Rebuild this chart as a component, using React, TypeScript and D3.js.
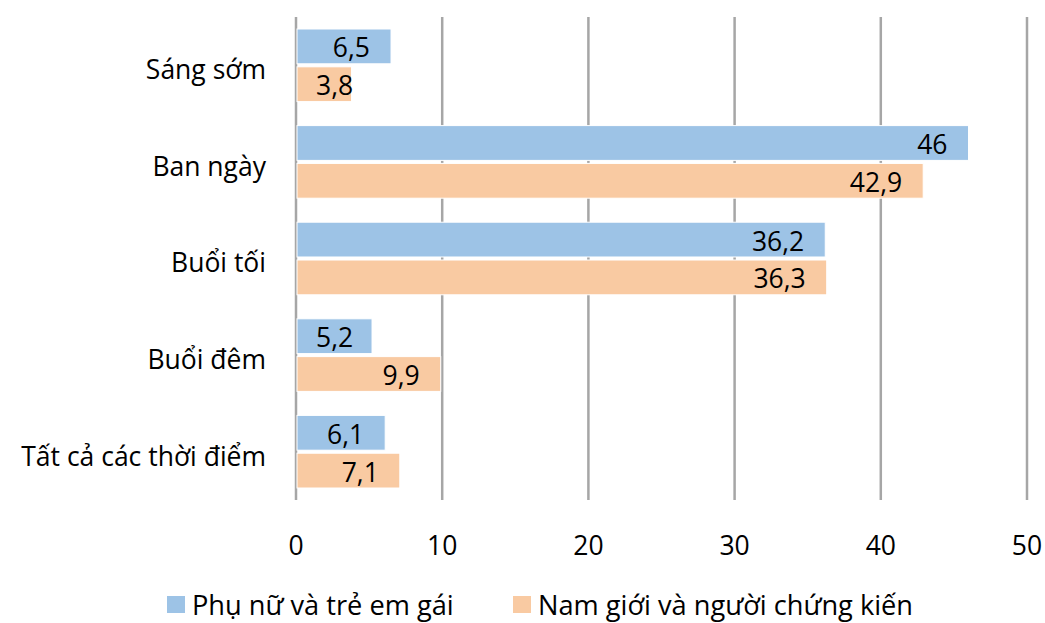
import React from 'react';
import * as d3 from 'd3';

const categories = ['Sáng sớm', 'Ban ngày', 'Buổi tối', 'Buổi đêm', 'Tất cả các thời điểm'];
const seriesNames = ['Phụ nữ và trẻ em gái', 'Nam giới và người chứng kiến'];
const womenValues = [6.5, 46, 36.2, 5.2, 6.1];
const menValues = [3.8, 42.9, 36.3, 9.9, 7.1];
const xTicks = [0, 10, 20, 30, 40, 50];

const colors = ['#9dc3e6', '#f9caa2'];
const font = "'Open Sans', 'DejaVu Sans', sans-serif";
const fs = 26.5;

const App = () => {
    const width = 1045;
    const height = 623;

    const x = d3.scaleLinear().domain([0, 50]).range([296, 1027]);
    const y = d3.scaleBand().domain(categories).range([17, 500]).padding(0);
    const inner = d3.scaleBand()
        .domain(seriesNames)
        .range([12, y.bandwidth() - 12])
        .paddingInner(0.08);

    const rows = categories.map((c, i) => ({
        category: c,
        values: [womenValues[i], menValues[i]],
    }));

    const fmt = (v: number) => String(v).replace('.', ',');
    // rough width of a number label
    const textW = (s: string) =>
        s.split('').reduce((acc, ch) => acc + (ch === ',' ? 0.26 : 0.572) * fs, 0);

    const legendX = [167, 513];

    return (
        <svg width={width} height={height} style={{ position: 'absolute', left: 0, top: 0, fontFamily: font }}>
            <rect width={width} height={height} fill="#ffffff" />
            {xTicks.map(t => (
                <g key={t}>
                    <line x1={x(t)} x2={x(t)} y1={17} y2={500} stroke="#a6a6a6" strokeWidth={2.5} />
                    <text x={x(t)} y={545} textAnchor="middle" dominantBaseline="central" fontSize={fs} fill="#000">{t}</text>
                </g>
            ))}
            {rows.map(r => (
                <g key={r.category} transform={`translate(0,${y(r.category)})`}>
                    <text
                        x={266}
                        y={y.bandwidth() / 2 + 4}
                        textAnchor="end"
                        dominantBaseline="central"
                        fontSize={fs}
                        fill="#000"
                    >{r.category}</text>
                    {r.values.map((v, j) => {
                        const s = seriesNames[j];
                        const x0 = x(0) + 1;
                        const x1 = x(v);
                        const label = fmt(v);
                        let lx = x1 - 21;
                        if (lx - textW(label) < x0 + 19) lx = x0 + 19 + textW(label);
                        return (
                            <g key={s}>
                                <rect
                                    x={x0}
                                    y={inner(s)}
                                    width={x1 - x0}
                                    height={inner.bandwidth()}
                                    fill={colors[j]}
                                    stroke="#ffffff"
                                    strokeWidth={1}
                                />
                                <text
                                    x={lx}
                                    y={(inner(s) as number) + inner.bandwidth() / 2 + 1}
                                    textAnchor="end"
                                    dominantBaseline="central"
                                    fontSize={fs}
                                    fill="#000"
                                >{label}</text>
                            </g>
                        );
                    })}
                </g>
            ))}
            {seriesNames.map((s, j) => (
                <g key={s}>
                    <rect x={legendX[j]} y={596} width={18} height={17} fill={colors[j]} />
                    <text x={legendX[j] + 25} y={604} dominantBaseline="central" fontSize={27.2} fill="#000">{s}</text>
                </g>
            ))}
        </svg>
    );
};

export default App;
